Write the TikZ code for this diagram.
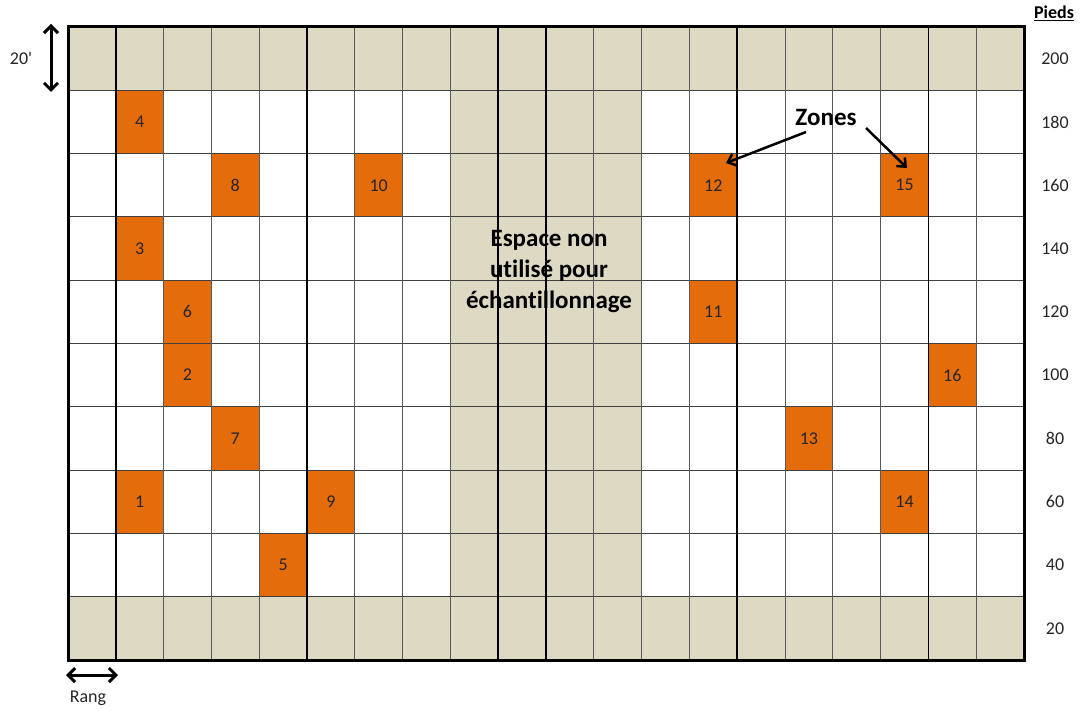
\documentclass[tikz,border=0pt]{standalone}
\usepackage{fontspec}
\setmainfont{Carlito}[Ligatures={TeX,NoCommon}]
\usetikzlibrary{arrows.meta}
\definecolor{tanbg}{HTML}{DDD9C3}
\definecolor{zoneorange}{HTML}{E46C0A}
\newcommand{\zonecell}[4]{\node[zonebox] (z#1) at ({68+47.8*(#2+0.5)},{27+63.3*(#3+0.5)}) {#4};}
\begin{document}
\begin{tikzpicture}[x=1pt,y=-1pt,
  zonebox/.style={rectangle,fill=zoneorange,draw=black!80,line width=0.8pt,minimum width=47.8pt,minimum height=63.3pt,inner sep=0pt,font=\fontsize{18}{21}\selectfont,text=black!85},
  hline/.style={draw=black!75,line width=1pt},
  thinv/.style={draw=black!65,line width=1pt},
  thickv/.style={draw=black,line width=1.8pt},
  border/.style={draw=black,line width=3pt},
  dimarrow/.style={line width=3pt,{Straight Barb[length=7pt,width=14pt]}-{Straight Barb[length=7pt,width=14pt]}},
  zarrow/.style={line width=2.5pt,-{Straight Barb[length=7pt,width=12pt]}},
  label/.style={font=\fontsize{18}{21}\selectfont,text=black!85,inner sep=1pt},
  bigbold/.style={font=\bfseries\fontsize{25}{31}\selectfont,align=center,inner sep=1pt}
]
\useasboundingbox (0,0) rectangle (1083,711);
\fill[white] (0,0) rectangle (1083,711);
% beige bands
\fill[tanbg] (68,27) rectangle (1024,90.3);
\fill[tanbg] (68,596.7) rectangle (1024,660);
\fill[tanbg] ({68+47.8*8},90.3) rectangle ({68+47.8*12},596.7);
% zones
\zonecell{4}{1}{1}{4}
\zonecell{8}{3}{2}{8}
\zonecell{10}{6}{2}{10}
\zonecell{12}{13}{2}{12}
\zonecell{15}{17}{2}{15}
\zonecell{3}{1}{3}{3}
\zonecell{6}{2}{4}{6}
\zonecell{11}{13}{4}{11}
\zonecell{2}{2}{5}{2}
\zonecell{16}{18}{5}{16}
\zonecell{7}{3}{6}{7}
\zonecell{13}{15}{6}{13}
\zonecell{1}{1}{7}{1}
\zonecell{9}{5}{7}{9}
\zonecell{14}{17}{7}{14}
\zonecell{5}{4}{8}{5}
% grid lines
\foreach \j in {1,...,9} \draw[hline] (68,{27+63.3*\j}) -- (1024,{27+63.3*\j});
\foreach \i in {2,3,4,6,7,8,11,12,13,15,16,17,19} \draw[thinv] ({68+47.8*\i},27) -- ({68+47.8*\i},660);
\foreach \i in {1,5,9,10,14,18} \draw[thickv] ({68+47.8*\i},27) -- ({68+47.8*\i},660);
\draw[border] (68,27) rectangle (1024,660);
% center text
\node[bigbold] (espace) at (549,272) {Espace non\\utilisé pour\\échantillonnage};
% right scale
\node[font=\bfseries\fontsize{18}{21}\selectfont,inner sep=1pt] (pieds) at (1054,13) {\underline{Pieds}};
\foreach \v [count=\j from 0] in {200,180,160,140,120,100,80,60,40,20}
  \node[label] (ft\v) at (1055,{27+63.3*(\j+0.5)}) {\v};
% left dimensions
\node[label] (twenty) at (21,58) {20\textquotesingle};
\coordinate (vtop) at (51,24);
\coordinate (vbot) at (51,92);
\draw[dimarrow] (vtop) -- (vbot);
\coordinate (hleft) at (66,675);
\coordinate (hright) at (118,675);
\draw[dimarrow] (hleft) -- (hright);
\node[label] (rang) at (88,698) {Rang};
% zones label
\node[font=\bfseries\fontsize{25}{28}\selectfont,inner sep=1pt] (zones) at (826,117) {Zones};
\coordinate (s12) at (806,132);
\coordinate (e12) at (726,163);
\coordinate (s15) at (866,128);
\coordinate (e15) at (907,168);
\draw[zarrow] (s12) -- (e12);
\draw[zarrow] (s15) -- (e15);
\end{tikzpicture}
\end{document}
